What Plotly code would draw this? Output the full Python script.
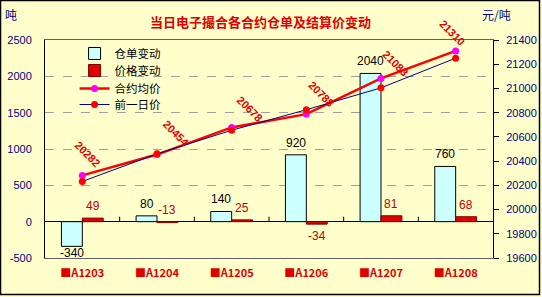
import plotly.graph_objects as go

# ---- data ----
categories = ["■A1203", "■A1204", "■A1205", "■A1206", "■A1207", "■A1208"]
warehouse_change = [-340, 80, 140, 920, 2040, 760]      # 仓单变动 (吨)
price_change = [49, -13, 25, -34, 81, 68]                # 价格变动
avg_price = [20282, 20454, 20678, 20788, 21083, 21310]   # 合约均价
prev_price = [20232, 20460, 20655, 20824, 21005, 21250]  # 前一日价
left_ticks = [-500, 0, 500, 1000, 1500, 2000, 2500]
right_ticks = [19600, 19800, 20000, 20200, 20400, 20600, 20800, 21000, 21200, 21400]

# ---- styles ----
BG = "#FFFFCC"
NAVY = "#000080"
FONT = "Liberation Sans"
CJK = "Noto Sans CJK SC"
price_label_dx = [5, 19, 18, 15, 14, -3]
price_label_dy = [21, 22, 18, 20, 15, 18]
wh_label_side = [-1, 1, 1, 1, 1, 1]
pc_label_side = [1, 1, 1, -1, 1, 1]
legend_tops = [1.0046, 0.9266, 0.844, 0.7706]

fig = go.Figure()
fig.add_trace(go.Bar(x=categories, y=warehouse_change, name="仓单变动", legend="legend",
                     marker=dict(color="#CCFFFF", line=dict(color="black", width=1)),
                     yaxis="y"))
fig.add_trace(go.Bar(x=categories, y=price_change, name="价格变动", legend="legend2",
                     marker=dict(color="#E00000", line=dict(color="#800000", width=1)),
                     yaxis="y"))
fig.add_trace(go.Scatter(x=categories, y=avg_price, name="合约均价", yaxis="y2",
                         legend="legend3", mode="lines+markers",
                         line=dict(color="#FF0000", width=2.5),
                         marker=dict(color="#FF00FF", size=7)))
fig.add_trace(go.Scatter(x=categories, y=prev_price, name="前一日价", yaxis="y2",
                         legend="legend4", mode="lines+markers",
                         line=dict(color=NAVY, width=1),
                         marker=dict(color="#FF0000", size=7)))

ann = []
# bar value labels
for i, v in enumerate(warehouse_change):
    s = wh_label_side[i]
    ann.append(dict(x=i - 0.14, y=v, xref="x", yref="y", text=str(v), showarrow=False,
                    xanchor="center", yanchor="middle",
                    yshift=12 if s > 0 else -7, font=dict(family=FONT, size=12, color="black")))
for i, v in enumerate(price_change):
    s = pc_label_side[i]
    yv = max(v, 0) if s > 0 else v
    ann.append(dict(x=i + 0.14, y=yv, xref="x", yref="y", text=str(v), showarrow=False,
                    xanchor="center", yanchor="middle",
                    yshift=12 if s > 0 else -12, font=dict(family=FONT, size=12, color="#C00000")))
# rotated price labels
for i, v in enumerate(avg_price):
    ann.append(dict(x=i, y=v, xref="x", yref="y2", text=str(v), showarrow=False,
                    xanchor="center", yanchor="middle",
                    textangle=45, xshift=price_label_dx[i], yshift=price_label_dy[i],
                    font=dict(family=FONT, size=11, color="#E00000", weight="bold")))
# title & units
ann.append(dict(x=0.48, y=1.0826, xref="paper", yref="paper", showarrow=False,
                xanchor="center", yanchor="middle",
                text="当日电子撮合各合约仓单及结算价变动",
                font=dict(family=CJK, size=13, color="#E00000", weight="bold")))
ann.append(dict(x=-0.0759, y=1.1147, xref="paper", yref="paper", showarrow=False,
                xanchor="center", yanchor="middle",
                text="吨", font=dict(family=CJK, size=12, color=NAVY)))
ann.append(dict(x=1.0089, y=1.1147, xref="paper", yref="paper", showarrow=False,
                xanchor="center", yanchor="middle",
                text="元/吨", font=dict(family=CJK, size=12, color=NAVY)))

shapes = []
# small category ticks on the zero line
for i in range(1, len(categories)):
    shapes.append(dict(type="line", xref="x", yref="y", x0=i - 0.5, x1=i - 0.5,
                       ysizemode="pixel", yanchor=0, y0=0, y1=5,
                       line=dict(color="black", width=1)))
# outer frame
shapes.append(dict(type="rect", xref="paper", yref="paper",
                   x0=-0.0993, x1=1.1038, y0=-0.1674, y1=1.1812,
                   line=dict(color="black", width=1.5)))

def legend_cfg(ytop):
    return dict(x=0.066, y=ytop, xanchor="left", yanchor="top",
                bgcolor="rgba(0,0,0,0)", font=dict(family=CJK, size=11.5, color="black"))

fig.update_layout(
    width=542, height=297,
    margin=dict(l=45, r=49, t=40, b=39, autoexpand=False),
    paper_bgcolor=BG, plot_bgcolor=BG,
    barmode="group", bargap=0.44, bargroupgap=0,
    showlegend=True,
    legend=legend_cfg(legend_tops[0]),
    legend2=legend_cfg(legend_tops[1]),
    legend3=legend_cfg(legend_tops[2]),
    legend4=legend_cfg(legend_tops[3]),
    xaxis=dict(type="category", range=[-0.5, 5.5], showline=True, linecolor="#606060",
               mirror=True, ticks="", showgrid=False, ticklabelstandoff=5, automargin=False,
               tickfont=dict(family=CJK, size=11, color="#E00000", weight="bold")),
    yaxis=dict(range=[-500, 2500], tickvals=left_ticks, ticktext=[str(v) for v in left_ticks],
               showgrid=True, gridcolor="#A0A0A0", griddash="dash", gridwidth=1,
               zeroline=True, zerolinecolor="black", zerolinewidth=1, automargin=False,
               showline=True, linecolor="black", ticks="", ticklabelstandoff=10,
               tickfont=dict(family=FONT, size=11, color=NAVY)),
    yaxis2=dict(overlaying="y", side="right", range=[19600, 21400], tickvals=right_ticks,
                ticktext=[str(v) for v in right_ticks], automargin=False,
                showgrid=False, zeroline=False, showline=True, linecolor="black",
                ticks="outside", ticklen=5, tickcolor="black", ticklabelstandoff=5,
                tickfont=dict(family=FONT, size=11, color=NAVY)),
    annotations=ann, shapes=shapes,
    font=dict(family=FONT),
)

fig.write_html("out.html")
